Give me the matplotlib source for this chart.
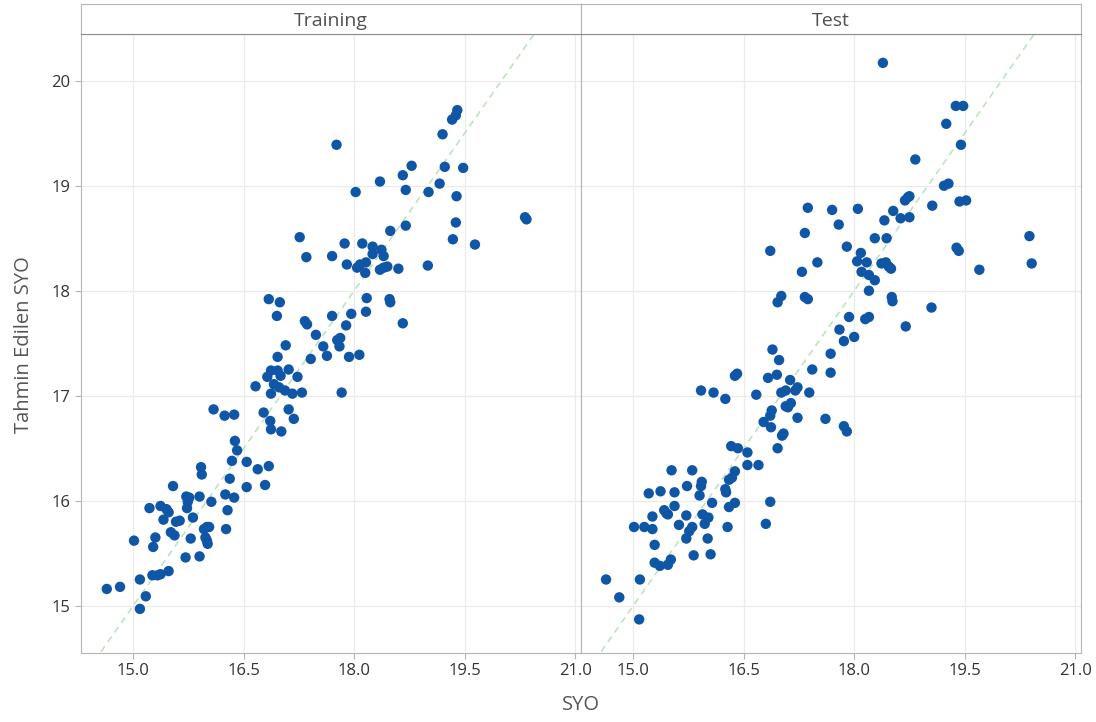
import numpy as np
import matplotlib
matplotlib.use("Agg")
import matplotlib.pyplot as plt

plt.rcParams['font.family'] = ['Open Sans', 'DejaVu Sans']

# values (SYO vs predicted SYO)
train_syo = [17.26, 17.35, 17.70, 16.84, 16.99, 16.95, 17.33, 17.36, 17.48, 17.70,
             19.40, 19.38, 19.33, 19.20, 17.76, 18.78, 18.66, 19.23, 19.48, 18.35,
             19.16, 18.02, 18.70, 19.01, 19.39, 20.32, 20.34, 18.70, 18.49, 19.38,
             19.34, 19.64, 17.87, 18.11, 18.25, 18.37, 18.25, 18.40, 17.90, 18.04,
             18.08, 18.16, 18.15, 18.35, 18.40, 18.45, 18.60, 19.00, 18.17, 18.48,
             18.49, 18.16, 17.96, 18.66, 17.89, 17.81, 17.77,
             17.07, 17.58, 16.96, 17.41, 17.63, 16.87, 16.82, 16.96, 17.00, 17.11,
             17.23, 16.91, 16.98, 17.06, 17.16, 17.29, 16.87, 16.66, 16.09, 16.24,
             16.37, 16.77, 17.11, 17.18, 16.86, 16.87, 17.01, 16.38, 16.41, 16.34,
             16.54, 16.69, 16.84, 15.92, 15.93, 16.31, 16.54, 16.79, 15.54, 16.25,
             16.37, 15.72, 15.76, 15.74, 15.90, 16.06, 15.22, 15.37, 15.45, 15.48,
             15.73, 16.28, 15.81, 15.41, 15.58, 15.63, 16.00, 16.03, 15.96, 16.26,
             15.51, 15.56, 15.30, 15.01, 15.78, 15.98, 16.00, 16.01, 15.27, 15.71,
             15.90, 15.48, 15.26, 15.33, 15.37, 15.09, 14.64, 14.82, 15.17, 15.09,
             17.80, 17.93, 18.07, 17.83]
train_pred = [18.51, 18.32, 18.33, 17.92, 17.89, 17.76, 17.71, 17.68, 17.58, 17.76,
              19.72, 19.67, 19.63, 19.49, 19.39, 19.19, 19.10, 19.18, 19.17, 19.04,
              19.02, 18.94, 18.96, 18.94, 18.90, 18.70, 18.68, 18.62, 18.57, 18.65,
              18.49, 18.44, 18.45, 18.45, 18.42, 18.39, 18.35, 18.33, 18.25, 18.22,
              18.25, 18.27, 18.17, 18.20, 18.22, 18.23, 18.21, 18.24, 17.93, 17.92,
              17.89, 17.80, 17.78, 17.69, 17.67, 17.55, 17.53,
              17.48, 17.47, 17.37, 17.35, 17.38, 17.24, 17.18, 17.24, 17.19, 17.25,
              17.18, 17.11, 17.08, 17.05, 17.02, 17.03, 17.02, 17.09, 16.87, 16.81,
              16.82, 16.84, 16.87, 16.78, 16.76, 16.68, 16.66, 16.57, 16.48, 16.38,
              16.37, 16.30, 16.33, 16.32, 16.25, 16.21, 16.13, 16.15, 16.14, 16.06,
              16.03, 16.04, 16.03, 15.99, 16.04, 15.99, 15.93, 15.95, 15.92, 15.89,
              15.93, 15.91, 15.84, 15.82, 15.80, 15.81, 15.75, 15.75, 15.73, 15.73,
              15.70, 15.67, 15.65, 15.62, 15.64, 15.65, 15.62, 15.59, 15.56, 15.46,
              15.47, 15.33, 15.29, 15.29, 15.30, 15.25, 15.16, 15.18, 15.09, 14.97,
              17.47, 17.37, 17.39, 17.03]

test_syo = [17.37, 17.70, 17.33, 16.86, 17.50, 17.29, 17.01, 16.96, 17.33, 17.37,
            18.39, 19.38, 19.48, 19.25, 19.45, 18.83, 19.22, 19.28, 18.73, 18.75,
            18.69, 19.43, 19.52, 19.06, 18.05, 18.53, 18.63, 18.75, 18.41, 17.79,
            18.28, 18.44, 20.38, 20.41, 17.90, 19.39, 19.42, 18.09, 18.04, 18.17,
            18.37, 18.43, 18.47, 18.50, 19.70, 18.10, 18.20, 18.28, 18.20, 18.51,
            18.52, 19.05, 17.93, 18.15, 18.20, 18.70, 17.80, 18.00, 17.86,
            16.89, 16.98, 17.68, 17.43, 17.68, 16.38, 16.41, 16.83, 16.95, 17.13,
            15.92, 16.09, 16.25, 16.67, 17.01, 17.07, 17.20, 17.23, 17.39, 17.07,
            17.14, 17.10, 17.23, 17.61, 16.88, 16.86, 16.77, 16.87, 17.04, 17.02,
            16.96, 16.33, 16.42, 16.55, 16.55, 16.70, 15.52, 15.80, 16.38, 16.34,
            16.30, 15.73, 15.93, 15.92, 15.21, 15.37, 15.56, 16.25, 16.26, 15.90,
            16.86, 16.07, 15.56, 16.30, 16.38, 15.42, 15.45, 15.47, 15.26, 15.72,
            15.94, 16.02, 15.97, 15.62, 15.01, 15.15, 15.26, 15.80, 15.76, 15.72,
            16.28, 16.80, 16.01, 15.29, 15.82, 16.05, 15.29, 15.36, 15.47, 15.51,
            14.63, 15.09, 14.81, 15.08, 17.86, 17.90]
test_pred = [18.79, 18.77, 18.55, 18.38, 18.27, 18.18, 17.95, 17.89, 17.94, 17.92,
             20.17, 19.76, 19.76, 19.59, 19.39, 19.25, 19.00, 19.02, 18.89, 18.90,
             18.86, 18.85, 18.86, 18.81, 18.78, 18.76, 18.69, 18.70, 18.67, 18.63,
             18.50, 18.50, 18.52, 18.26, 18.42, 18.41, 18.38, 18.36, 18.28, 18.27,
             18.26, 18.27, 18.23, 18.21, 18.20, 18.18, 18.15, 18.10, 18.00, 17.94,
             17.90, 17.84, 17.75, 17.73, 17.75, 17.66, 17.63, 17.56, 17.52,
             17.44, 17.34, 17.40, 17.25, 17.22, 17.19, 17.21, 17.17, 17.20, 17.15,
             17.05, 17.03, 16.97, 17.01, 17.03, 17.05, 17.05, 17.08, 17.03, 16.90,
             16.93, 16.89, 16.79, 16.78, 16.86, 16.81, 16.75, 16.70, 16.64, 16.62,
             16.50, 16.52, 16.50, 16.46, 16.34, 16.34, 16.29, 16.29, 16.28, 16.22,
             16.20, 16.14, 16.18, 16.14, 16.07, 16.09, 16.08, 16.11, 16.08, 16.05,
             15.99, 15.98, 15.95, 15.94, 15.98, 15.91, 15.88, 15.87, 15.85, 15.86,
             15.87, 15.84, 15.78, 15.77, 15.75, 15.75, 15.73, 15.75, 15.71, 15.64,
             15.75, 15.78, 15.64, 15.58, 15.48, 15.49, 15.41, 15.38, 15.39, 15.44,
             15.25, 15.25, 15.08, 14.87, 16.71, 16.66]

panels = ["Training", "Test"]
x_ticks = [15.0, 16.5, 18.0, 19.5, 21.0]
y_ticks = [15, 16, 17, 18, 19, 20]

W, H = 1096, 722
fig = plt.figure(figsize=(W / 100, H / 100), dpi=100)

dot_color = "#0f56a6"
frame_color = "#b4b4b4"
text_color = "#333333"
xlim = (14.29, 21.08)
ylim = (14.55, 20.445)

data = [(train_syo, train_pred), (test_syo, test_pred)]
ax_left = [81, 581]
ax_w = 500
ax_top, ax_bot, strip_top = 34, 653, 4

for i, (name, (xs, ys)) in enumerate(zip(panels, data)):
    ax = fig.add_axes([ax_left[i] / W, 1 - ax_bot / H, ax_w / W, (ax_bot - ax_top) / H])
    ax.set_xlim(*xlim)
    ax.set_ylim(*ylim)
    ax.grid(True, color="#ebebeb", lw=0.9)
    ax.set_axisbelow(True)
    # reference line y = x
    ax.plot(xlim, xlim, ls=(0, (4, 3)), color="#bfe3bf", lw=1.2, zorder=1)
    ax.scatter(xs, ys, s=56, color=dot_color, edgecolors="none", zorder=3)
    ax.set_xticks(x_ticks)
    ax.set_xticklabels([f"{t:.1f}" for t in x_ticks])
    ax.set_yticks(y_ticks)
    ax.tick_params(colors=frame_color, labelcolor=text_color, labelsize=12, length=4)
    if i == 1:
        ax.tick_params(axis="y", left=False, labelleft=False)
    for sp in ax.spines.values():
        sp.set_color(frame_color)
    if i == 0:
        ax.spines["right"].set_color("#8c8c8c")

    # panel header strip
    sax = fig.add_axes([ax_left[i] / W, 1 - ax_top / H, ax_w / W, (ax_top - strip_top) / H])
    sax.set_xticks([])
    sax.set_yticks([])
    for sp in sax.spines.values():
        sp.set_color(frame_color)
    sax.spines["bottom"].set_color("#8c8c8c")
    if i == 0:
        sax.spines["right"].set_color("#8c8c8c")
    sax.text(0.5, 0.45, name, ha="center", va="center", fontsize=14, color="#505050",
             transform=sax.transAxes)

fig.text(581 / W, 1 - 705 / H, "SYO", ha="center", va="center", fontsize=14.5, color="#555555")
fig.text(24 / W, 1 - 345 / H, "Tahmin Edilen SYO", ha="center", va="center", rotation=90,
         fontsize=14.5, color="#555555")

fig.savefig("out.png", dpi=100)
